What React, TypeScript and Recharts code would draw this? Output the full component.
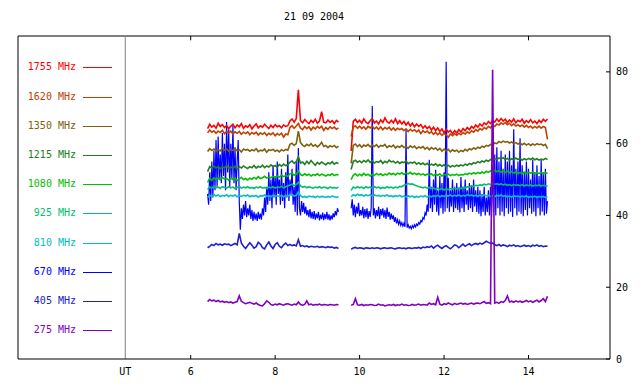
import React from 'react';
import { LineChart, Line, XAxis, YAxis, ReferenceLine } from 'recharts';

const FONT = '"DejaVu Sans Mono", "Liberation Mono", monospace';

const chartTitle = '21 09 2004';
const xTicks = [4.45, 6, 8, 10, 12, 14];
const topTicks = [6, 8, 10, 12, 14];
const yTicks = [0, 20, 40, 60, 80];
const utPos = 4.45;
const gapTime = 9.65;

const seg1Times = [
  6.40, 6.45, 6.50, 6.55, 6.60, 6.65, 6.70, 6.75, 6.80, 6.85,
  6.90, 6.95, 7.00, 7.05, 7.10, 7.15, 7.20, 7.25, 7.30, 7.35,
  7.40, 7.45, 7.50, 7.55, 7.60, 7.65, 7.70, 7.75, 7.80, 7.85,
  7.90, 7.95, 8.00, 8.05, 8.10, 8.15, 8.20, 8.25, 8.30, 8.35,
  8.40, 8.45, 8.50, 8.55, 8.60, 8.65, 8.70, 8.75, 8.80, 8.85,
  8.90, 8.95, 9.00, 9.05, 9.10, 9.15, 9.20, 9.25, 9.30, 9.35,
  9.40, 9.45, 9.50,
];
const seg2Times = [
  9.80, 9.85, 9.90, 9.95, 10.00, 10.05, 10.10, 10.15, 10.20, 10.25,
  10.30, 10.35, 10.40, 10.45, 10.50, 10.55, 10.60, 10.65, 10.70, 10.75,
  10.80, 10.85, 10.90, 10.95, 11.00, 11.05, 11.10, 11.15, 11.20, 11.25,
  11.30, 11.35, 11.40, 11.45, 11.50, 11.55, 11.60, 11.65, 11.70, 11.75,
  11.80, 11.85, 11.90, 11.95, 12.00, 12.05, 12.10, 12.15, 12.20, 12.25,
  12.30, 12.35, 12.40, 12.45, 12.50, 12.55, 12.60, 12.65, 12.70, 12.75,
  12.80, 12.85, 12.90, 12.95, 13.00, 13.05, 13.10, 13.15, 13.20, 13.25,
  13.30, 13.35, 13.40, 13.45, 13.50, 13.55, 13.60, 13.65, 13.70, 13.75,
  13.80, 13.85, 13.90, 13.95, 14.00, 14.05, 14.10, 14.15, 14.20, 14.25,
  14.30, 14.35, 14.40, 14.45,
];

// 670 MHz is sampled twice as densely (every 0.025 h)
const fineTimes1 = [
  6.400, 6.425, 6.450, 6.475, 6.500, 6.525, 6.550, 6.575, 6.600, 6.625,
  6.650, 6.675, 6.700, 6.725, 6.750, 6.775, 6.800, 6.825, 6.850, 6.875,
  6.900, 6.925, 6.950, 6.975, 7.000, 7.025, 7.050, 7.075, 7.100, 7.125,
  7.150, 7.175, 7.200, 7.225, 7.250, 7.275, 7.300, 7.325, 7.350, 7.375,
  7.400, 7.425, 7.450, 7.475, 7.500, 7.525, 7.550, 7.575, 7.600, 7.625,
  7.650, 7.675, 7.700, 7.725, 7.750, 7.775, 7.800, 7.825, 7.850, 7.875,
  7.900, 7.925, 7.950, 7.975, 8.000, 8.025, 8.050, 8.075, 8.100, 8.125,
  8.150, 8.175, 8.200, 8.225, 8.250, 8.275, 8.300, 8.325, 8.350, 8.375,
  8.400, 8.425, 8.450, 8.475, 8.500, 8.525, 8.550, 8.575, 8.600, 8.625,
  8.650, 8.675, 8.700, 8.725, 8.750, 8.775, 8.800, 8.825, 8.850, 8.875,
  8.900, 8.925, 8.950, 8.975, 9.000, 9.025, 9.050, 9.075, 9.100, 9.125,
  9.150, 9.175, 9.200, 9.225, 9.250, 9.275, 9.300, 9.325, 9.350, 9.375,
  9.400, 9.425, 9.450, 9.475, 9.500,
];
const fineTimes2 = [
  9.800, 9.825, 9.850, 9.875, 9.900, 9.925, 9.950, 9.975, 10.000, 10.025,
  10.050, 10.075, 10.100, 10.125, 10.150, 10.175, 10.200, 10.225, 10.250, 10.275,
  10.300, 10.325, 10.350, 10.375, 10.400, 10.425, 10.450, 10.475, 10.500, 10.525,
  10.550, 10.575, 10.600, 10.625, 10.650, 10.675, 10.700, 10.725, 10.750, 10.775,
  10.800, 10.825, 10.850, 10.875, 10.900, 10.925, 10.950, 10.975, 11.000, 11.025,
  11.050, 11.075, 11.100, 11.125, 11.150, 11.175, 11.200, 11.225, 11.250, 11.275,
  11.300, 11.325, 11.350, 11.375, 11.400, 11.425, 11.450, 11.475, 11.500, 11.525,
  11.550, 11.575, 11.600, 11.625, 11.650, 11.675, 11.700, 11.725, 11.750, 11.775,
  11.800, 11.825, 11.850, 11.875, 11.900, 11.925, 11.950, 11.975, 12.000, 12.025,
  12.050, 12.075, 12.100, 12.125, 12.150, 12.175, 12.200, 12.225, 12.250, 12.275,
  12.300, 12.325, 12.350, 12.375, 12.400, 12.425, 12.450, 12.475, 12.500, 12.525,
  12.550, 12.575, 12.600, 12.625, 12.650, 12.675, 12.700, 12.725, 12.750, 12.775,
  12.800, 12.825, 12.850, 12.875, 12.900, 12.925, 12.950, 12.975, 13.000, 13.025,
  13.050, 13.075, 13.100, 13.125, 13.150, 13.175, 13.200, 13.225, 13.250, 13.275,
  13.300, 13.325, 13.350, 13.375, 13.400, 13.425, 13.450, 13.475, 13.500, 13.525,
  13.550, 13.575, 13.600, 13.625, 13.650, 13.675, 13.700, 13.725, 13.750, 13.775,
  13.800, 13.825, 13.850, 13.875, 13.900, 13.925, 13.950, 13.975, 14.000, 14.025,
  14.050, 14.075, 14.100, 14.125, 14.150, 14.175, 14.200, 14.225, 14.250, 14.275,
  14.300, 14.325, 14.350, 14.375, 14.400, 14.425, 14.450,
];

// 1755 MHz
const f1755a = [
  64.2, 65.4, 64.6, 65.1, 64.3, 65.7, 64.8, 65.3, 64.5, 65.0,
  64.2, 64.9, 65.4, 64.4, 65.2, 64.7, 65.6, 64.3, 65.0, 64.6,
  65.3, 64.1, 64.9, 65.5, 64.4, 65.0, 64.6, 65.4, 64.8, 64.2,
  65.1, 64.5, 65.3, 64.7, 65.0, 64.4, 65.2, 64.8, 65.0, 66.3,
  66.9, 66.0, 67.0, 75.0, 66.4, 65.8, 66.7, 66.1, 65.6, 66.5,
  65.9, 66.8, 65.7, 66.3, 68.9, 66.0, 65.8, 66.6, 65.9, 66.4,
  65.6, 66.5, 66.0,
];
const f1755b = [
  58.0, 66.2, 66.8, 65.9, 66.5, 65.7, 66.9, 66.0, 65.6, 66.4,
  67.0, 65.8, 66.3, 65.5, 66.6, 65.9, 67.2, 66.1, 65.7, 66.5,
  65.8, 66.9, 65.6, 66.4, 65.5, 66.2, 65.2, 66.0, 64.9, 65.7,
  64.7, 65.5, 64.8, 65.3, 64.3, 65.0, 64.2, 64.8, 63.8, 64.6,
  63.6, 64.4, 63.4, 64.1, 63.0, 64.0, 63.2, 63.7, 62.8, 63.6,
  63.0, 63.9, 63.2, 64.2, 63.6, 64.5, 63.9, 64.8, 64.3, 65.2,
  64.6, 65.5, 64.9, 65.8, 65.3, 66.2, 65.6, 66.5, 66.0, 66.9,
  66.2, 67.0, 66.3, 66.8, 65.9, 66.6, 66.0, 66.9, 65.8, 66.5,
  66.1, 66.8, 65.7, 66.4, 65.9, 66.7, 65.8, 66.3, 65.6, 66.5,
  65.9, 66.8, 66.2, 66.9,
];

// 1620 MHz
const f1620a = [
  63.0, 63.8, 63.2, 63.6, 62.9, 63.5, 63.1, 63.7, 62.8, 63.4,
  63.0, 63.5, 62.7, 63.3, 62.9, 63.4, 62.6, 63.2, 62.8, 63.3,
  62.5, 63.1, 62.7, 63.2, 62.4, 63.0, 62.6, 63.1, 62.3, 62.9,
  62.5, 63.0, 62.2, 62.8, 62.4, 62.9, 61.8, 62.7, 62.5, 64.5,
  65.0, 64.3, 64.9, 65.6, 64.4, 63.9, 64.8, 64.2, 64.7, 63.8,
  64.6, 64.1, 64.8, 64.3, 64.9, 63.7, 64.5, 64.0, 64.7, 64.2,
  64.6, 64.0, 64.4,
];
const f1620b = [
  62.0, 64.6, 65.0, 64.3, 64.9, 64.2, 64.7, 64.0, 64.8, 64.4,
  64.9, 64.1, 64.6, 64.0, 64.7, 63.9, 64.5, 64.1, 64.6, 63.8,
  64.4, 63.7, 64.3, 63.9, 64.2, 63.6, 64.1, 63.4, 64.0, 63.5,
  63.9, 63.3, 63.8, 62.8, 63.6, 63.1, 63.5, 62.9, 63.3, 62.6,
  63.2, 62.5, 63.0, 62.3, 62.9, 62.4, 61.8, 62.7, 62.2, 62.8,
  62.3, 62.9, 62.5, 63.1, 62.7, 63.3, 62.9, 63.6, 63.2, 63.9,
  63.5, 64.2, 63.8, 64.5, 64.1, 64.8, 64.4, 65.1, 64.8, 65.5,
  65.2, 65.8, 65.4, 65.9, 65.3, 65.7, 65.0, 65.5, 64.9, 65.3,
  64.8, 65.2, 64.6, 65.1, 64.5, 64.9, 64.3, 64.8, 64.4, 64.9,
  64.3, 64.8, 64.5, 61.2,
];

// 1350 MHz
const f1350a = [
  57.8, 58.6, 58.1, 58.5, 57.9, 58.4, 58.0, 58.7, 58.2, 58.5,
  57.9, 58.4, 58.1, 58.6, 58.0, 58.3, 57.7, 58.5, 58.2, 58.4,
  57.9, 58.3, 58.0, 58.6, 57.8, 58.2, 58.0, 58.5, 57.6, 58.3,
  58.1, 58.4, 57.9, 58.2, 57.7, 58.3, 58.0, 58.4, 58.2, 59.8,
  60.1, 59.5, 60.0, 63.5, 60.3, 59.6, 59.2, 59.8, 59.4, 60.0,
  59.3, 59.7, 59.1, 59.6, 60.4, 59.2, 59.5, 58.9, 59.4, 59.1,
  59.5, 58.9, 59.3,
];
const f1350b = [
  54.5, 59.5, 59.9, 59.2, 59.7, 59.0, 59.6, 59.3, 59.8, 59.1,
  59.6, 59.2, 59.7, 59.0, 59.5, 59.3, 59.8, 58.9, 59.4, 59.1,
  59.6, 58.8, 59.3, 59.0, 59.5, 58.9, 59.2, 58.7, 59.4, 58.9,
  59.3, 58.6, 59.1, 58.8, 59.2, 58.5, 59.0, 58.3, 58.9, 58.5,
  58.8, 58.2, 58.7, 57.9, 58.5, 58.0, 58.4, 57.7, 58.3, 57.9,
  58.2, 57.6, 58.1, 57.8, 58.4, 58.0, 58.6, 58.3, 58.8, 58.5,
  59.0, 58.7, 59.3, 59.0, 59.5, 59.3, 59.8, 59.6, 60.2, 60.0,
  60.6, 60.3, 60.7, 60.4, 60.6, 60.2, 60.5, 60.0, 60.3, 59.9,
  60.2, 59.7, 60.1, 59.6, 60.0, 59.5, 59.9, 59.6, 60.0, 59.7,
  59.9, 59.5, 59.8, 58.6,
];

// 1215 MHz
const f1215a = [
  52.2, 53.6, 53.1, 53.8, 53.2, 53.6, 53.0, 53.5, 53.3, 53.9,
  53.1, 53.5, 53.2, 53.7, 52.9, 53.6, 53.2, 53.8, 53.4, 53.1,
  53.6, 53.3, 53.9, 53.2, 53.7, 53.4, 54.0, 53.3, 53.8, 53.5,
  54.1, 53.6, 53.9, 53.4, 54.2, 53.7, 54.3, 53.9, 54.1, 54.8,
  55.2, 54.5, 55.0, 56.3, 54.6, 54.9, 54.2, 55.1, 54.4, 55.3,
  54.6, 54.0, 54.8, 54.3, 54.9, 54.5, 54.1, 54.7, 54.4, 55.0,
  54.3, 54.7, 54.5,
];
const f1215b = [
  52.8, 55.1, 55.4, 54.8, 55.2, 54.7, 55.3, 54.9, 55.5, 54.8,
  55.2, 54.6, 55.0, 54.8, 55.3, 54.5, 55.1, 54.7, 55.4, 54.9,
  55.1, 54.6, 55.0, 54.5, 54.9, 54.7, 55.2, 54.4, 54.8, 54.6,
  54.9, 54.3, 54.7, 54.2, 54.6, 54.1, 54.5, 53.9, 54.3, 54.0,
  54.4, 53.8, 54.2, 53.7, 54.1, 53.6, 54.0, 53.5, 53.9, 53.6,
  54.0, 53.7, 54.1, 53.8, 54.3, 54.0, 54.5, 54.2, 54.7, 54.5,
  55.0, 54.7, 55.2, 54.9, 55.4, 55.1, 55.6, 55.3, 55.8, 55.6,
  56.0, 55.7, 56.1, 55.6, 55.9, 55.4, 55.8, 55.5, 56.0, 55.6,
  55.9, 55.4, 55.8, 55.5, 55.9, 55.6, 56.0, 55.5, 55.8, 55.4,
  55.7, 55.5, 55.9, 55.6,
];

// 1080 MHz
const f1080a = [
  49.2, 50.3, 49.8, 50.5, 50.0, 50.4, 49.9, 50.6, 50.1, 50.3,
  49.8, 50.5, 50.0, 50.4, 49.7, 50.2, 50.6, 50.0, 50.3, 49.9,
  50.4, 50.1, 50.6, 50.2, 50.8, 50.3, 50.5, 50.9, 50.4, 50.7,
  50.5, 50.9, 50.6, 51.0, 50.7, 51.2, 50.8, 51.1, 50.9, 51.6,
  51.8, 51.2, 51.5, 52.4, 51.4, 51.1, 51.6, 51.2, 51.5, 51.0,
  51.4, 51.2, 51.6, 51.1, 51.5, 51.3, 51.0, 51.4, 51.2, 51.6,
  51.1, 51.4, 51.3,
];
const f1080b = [
  50.0, 51.2, 51.6, 51.0, 51.5, 51.1, 51.7, 51.2, 51.5, 51.0,
  51.4, 51.2, 51.7, 51.3, 51.6, 51.1, 51.5, 51.3, 51.8, 51.4,
  51.7, 51.3, 51.8, 51.5, 51.9, 51.4, 51.8, 51.6, 52.0, 51.5,
  51.8, 51.4, 51.7, 51.3, 51.6, 51.2, 51.5, 51.3, 51.6, 51.1,
  51.5, 51.2, 51.6, 51.0, 51.4, 51.2, 51.5, 51.1, 51.4, 51.2,
  51.5, 51.1, 51.4, 51.3, 51.6, 51.4, 51.8, 51.5, 51.9, 51.6,
  52.0, 51.7, 52.1, 51.8, 52.3, 52.0, 52.4, 52.1, 52.6, 52.2,
  52.5, 52.1, 52.4, 52.0, 52.3, 51.9, 52.2, 51.8, 52.1, 51.7,
  52.0, 51.6, 52.1, 51.7, 52.0, 51.8, 52.1, 51.6, 51.9, 51.7,
  52.0, 51.6, 51.9, 51.7,
];

// 925 MHz
const f925a = [
  47.2, 47.9, 47.6, 48.1, 47.7, 47.9, 47.5, 48.0, 47.8, 47.6,
  48.0, 47.7, 47.9, 47.5, 47.8, 48.1, 47.6, 47.9, 47.7, 48.0,
  47.6, 47.8, 47.5, 47.9, 47.7, 48.0, 47.6, 47.8, 47.5, 47.9,
  47.7, 48.0, 47.6, 47.9, 47.8, 48.1, 47.7, 48.0, 48.2, 48.5,
  48.7, 48.3, 48.6, 49.2, 48.2, 47.9, 48.1, 47.7, 48.0, 47.8,
  47.6, 47.9, 47.7, 48.0, 47.6, 47.9, 47.8, 47.5, 47.9, 47.7,
  47.8, 47.6, 47.9,
];
const f925b = [
  47.0, 47.9, 47.6, 48.0, 47.7, 47.9, 47.5, 48.0, 47.7, 47.9,
  47.6, 48.0, 47.7, 47.9, 47.5, 47.8, 47.6, 48.0, 47.7, 47.9,
  47.6, 47.9, 47.7, 48.1, 48.0, 48.4, 48.6, 48.9, 48.7, 48.8,
  48.5, 48.3, 48.0, 47.9, 47.7, 47.9, 47.6, 47.8, 47.5, 47.7,
  47.3, 47.6, 47.2, 47.5, 47.1, 47.4, 47.2, 47.5, 47.3, 47.6,
  47.4, 47.7, 47.5, 47.8, 47.7, 48.0, 47.9, 48.2, 48.1, 48.4,
  48.3, 48.5, 48.4, 48.7, 48.5, 48.8, 48.6, 48.9, 48.7, 48.8,
  48.6, 48.8, 48.5, 48.7, 48.4, 48.6, 48.3, 48.6, 48.4, 48.5,
  48.3, 48.6, 48.2, 48.5, 48.3, 48.5, 48.2, 48.4, 48.3, 48.5,
  48.2, 48.4, 48.3, 48.1,
];

// 810 MHz
const f810a = [
  45.0, 45.6, 45.3, 45.8, 45.4, 45.7, 45.2, 45.6, 45.4, 45.8,
  45.3, 45.6, 45.4, 45.7, 45.2, 45.5, 45.3, 45.6, 45.4, 45.7,
  45.2, 45.5, 45.3, 45.6, 45.1, 45.5, 45.4, 45.7, 45.3, 45.5,
  45.2, 45.6, 45.4, 45.5, 45.3, 45.6, 45.2, 45.5, 45.4, 45.7,
  45.8, 45.4, 45.6, 46.5, 45.5, 45.1, 45.3, 45.0, 45.4, 45.2,
  45.3, 45.0, 45.4, 45.1, 45.3, 45.2, 45.0, 45.3, 45.1, 45.4,
  45.2, 45.0, 45.3,
];
const f810b = [
  45.2, 45.8, 45.5, 45.9, 45.6, 45.8, 45.4, 45.7, 45.5, 45.8,
  45.4, 45.7, 45.5, 45.6, 45.3, 45.6, 45.4, 45.7, 45.3, 45.5,
  45.2, 45.5, 45.3, 45.6, 45.2, 45.4, 45.1, 45.5, 45.2, 45.4,
  45.0, 45.3, 45.1, 45.4, 45.2, 45.5, 45.1, 45.4, 45.2, 45.5,
  45.3, 45.6, 45.2, 45.5, 45.3, 45.6, 45.4, 45.7, 45.3, 45.6,
  45.4, 45.7, 45.3, 45.6, 45.4, 45.8, 45.5, 45.7, 45.4, 45.6,
  45.3, 45.6, 45.4, 45.7, 45.5, 45.6, 45.3, 45.5, 45.2, 45.6,
  45.4, 45.7, 45.3, 45.5, 45.2, 45.4, 45.1, 45.5, 45.3, 45.4,
  45.1, 45.4, 45.2, 45.5, 45.0, 45.3, 45.1, 45.4, 45.0, 45.3,
  45.1, 45.3, 45.0, 45.2,
];

// 670 MHz (fine grid)
const f670a = [
  46, 43, 52, 44, 55, 45, 58, 47, 61, 48,
  62, 50, 57, 49, 63, 51, 60, 47, 66, 52,
  64, 48, 60, 50, 65, 49, 59, 47, 55, 61,
  44, 36, 42, 39, 43, 40, 44, 39.5, 42, 40,
  43, 39, 41.5, 38.5, 41, 38.8, 40.5, 38.5, 41, 39,
  40.5, 38.8, 42, 40, 45, 41, 48, 43, 52, 44,
  50, 42, 54, 45, 51, 43, 55, 46, 50, 43,
  53, 44, 49, 42, 52, 45, 57, 44, 50, 46,
  53, 43, 48, 41, 55, 40, 58.8, 42, 40, 44,
  41, 43.5, 40.5, 42.5, 40, 41.5, 39.5, 41.8, 39.2, 41,
  39, 41.2, 38.8, 40.5, 39.2, 41, 38.6, 40.2, 39, 40.8,
  38.7, 40.4, 39, 41, 38.8, 40.3, 38.6, 40, 38.9, 40.6,
  39.5, 41.2, 40, 42, 41,
];
const f670b = [
  42, 44.5, 40, 43, 39.5, 42.5, 40.5, 43.5, 39.8, 41.5,
  40, 42.4, 39.2, 41.8, 39.5, 42, 39, 41.2, 39.6, 42.2,
  70.5, 40, 42, 39.2, 41.5, 39.8, 42.4, 39, 41.8, 40,
  42, 39.4, 41.5, 39, 42.2, 39.6, 41, 38.8, 40.5, 39,
  40, 38.2, 39.5, 37.8, 38.8, 37.5, 38.5, 37.2, 38, 37,
  37.8, 36.8, 63.8, 36.6, 37.4, 36.5, 37, 36.3, 37.2, 36.6,
  37.4, 36.8, 37.6, 37.2, 38, 37.6, 38.6, 38.2, 39.4, 39,
  40.7, 40, 43, 41, 55.5, 42, 48, 41, 50, 43,
  52.7, 41, 47, 40, 51, 42, 49, 40.5, 52, 41,
  82.8, 42, 50.5, 41, 47, 42.5, 50, 41, 48, 42,
  49, 41.5, 47.5, 40.8, 50.7, 42, 48, 41, 50, 43,
  47, 41.5, 49, 42, 48.5, 41, 50, 42.5, 47, 41,
  48, 40.5, 47, 39.8, 46, 41, 48, 40, 45, 41,
  47, 40, 48, 39.6, 54, 41, 57, 40, 59, 42,
  55, 40, 58, 41, 53, 39.8, 57, 42, 55, 40.5,
  58, 41, 54, 39.6, 64, 42, 53, 40, 55, 41,
  61.5, 40.5, 54, 39.8, 52, 41.5, 55, 40, 53, 42,
  50, 40.5, 55.5, 41, 52, 39.8, 54, 42, 51, 40,
  55.5, 41, 52, 40, 53, 40.5, 44,
];

// 405 MHz
const f405a = [
  31.0, 31.4, 31.9, 31.6, 32.2, 31.8, 32.0, 31.7, 32.1, 31.9,
  32.0, 31.6, 31.9, 32.2, 31.8, 35.0, 32.3, 31.4, 30.8, 31.6,
  32.4, 31.7, 30.9, 31.3, 32.5, 32.0, 31.0, 30.7, 31.8, 32.6,
  31.5, 30.8, 31.9, 32.4, 31.4, 31.0, 31.8, 32.3, 31.6, 31.9,
  31.6, 31.8, 31.5, 33.2, 31.4, 31.6, 31.3, 31.5, 31.2, 31.4,
  31.3, 31.2, 31.4, 31.1, 31.3, 31.2, 31.0, 31.3, 31.1, 31.2,
  30.9, 31.1, 30.8,
];
const f405b = [
  30.6, 30.9, 31.1, 30.8, 31.0, 30.9, 30.7, 31.0, 30.9, 30.8,
  31.0, 30.8, 31.0, 30.9, 30.7, 30.9, 31.0, 30.8, 30.9, 31.0,
  30.8, 30.7, 30.9, 31.0, 30.8, 30.9, 30.7, 31.0, 30.9, 30.8,
  31.0, 30.9, 31.1, 30.8, 31.2, 31.0, 31.3, 31.1, 31.5, 30.9,
  31.4, 31.7, 31.2, 30.8, 31.3, 31.6, 31.1, 30.7, 31.2, 31.8,
  31.6, 31.0, 31.5, 32.0, 31.4, 31.8, 32.1, 31.6, 32.0, 32.2,
  31.9, 32.3, 32.0, 32.4, 32.8, 32.5, 32.2, 32.3, 31.8, 31.6,
  31.9, 31.5, 31.8, 31.6, 31.3, 31.7, 31.5, 31.8, 31.4, 31.6,
  31.3, 31.5, 31.7, 31.4, 31.6, 31.3, 31.7, 31.5, 31.8, 31.4,
  31.6, 31.3, 31.5, 31.4,
];

// 275 MHz
const f275a = [
  16.0, 16.6, 16.2, 16.4, 16.0, 16.3, 15.9, 16.1, 15.8, 16.0,
  15.7, 15.9, 15.6, 15.8, 16.0, 17.6, 16.1, 15.7, 15.4, 15.6,
  15.8, 15.5, 15.3, 15.6, 15.2, 14.9, 14.8, 15.4, 16.2, 15.8,
  15.2, 15.0, 15.3, 15.1, 15.4, 15.2, 15.0, 15.3, 15.4, 15.2,
  15.0, 15.3, 15.1, 15.9, 15.2, 15.0, 15.2, 16.2, 15.1, 15.3,
  15.0, 15.2, 15.1, 15.3, 15.0, 15.2, 15.1, 15.0, 15.2, 15.1,
  15.0, 15.2, 15.1,
];
const f275b = [
  15.0, 15.2, 16.8, 15.1, 15.0, 15.2, 14.9, 15.1, 15.0, 15.2,
  15.1, 14.9, 15.0, 15.3, 15.0, 15.1, 14.8, 15.0, 15.1, 15.0,
  15.2, 14.9, 15.1, 15.0, 15.3, 15.0, 15.1, 14.9, 15.0, 15.2,
  15.0, 15.1, 15.3, 15.0, 15.2, 15.1, 15.0, 15.6, 15.2, 15.4,
  15.1, 17.2, 15.3, 15.0, 15.4, 15.2, 15.6, 15.3, 15.1, 15.5,
  15.2, 15.4, 15.6, 15.3, 15.5, 15.2, 15.4, 15.6, 15.3, 15.5,
  15.6, 15.4, 15.7, 16.0, 15.5, 15.7, 15.4, 80.6, 15.6, 15.8,
  15.5, 16.0, 15.8, 16.3, 17.6, 15.9, 16.1, 15.8, 16.2, 15.9,
  16.1, 15.8, 16.0, 16.3, 15.9, 16.2, 15.8, 16.1, 16.4, 15.9,
  16.3, 16.8, 16.0, 17.5,
];

type Series = { key: string; label: string; color: string; a: number[]; b: number[]; fine?: boolean };

const series: Series[] = [
  { key: 'f1755', label: '1755 MHz', color: '#ff0000', a: f1755a, b: f1755b },
  { key: 'f1620', label: '1620 MHz', color: '#c04000', a: f1620a, b: f1620b },
  { key: 'f1350', label: '1350 MHz', color: '#80600c', a: f1350a, b: f1350b },
  { key: 'f1215', label: '1215 MHz', color: '#208020', a: f1215a, b: f1215b },
  { key: 'f1080', label: '1080 MHz', color: '#00c000', a: f1080a, b: f1080b },
  { key: 'f925', label: '925 MHz', color: '#00c070', a: f925a, b: f925b },
  { key: 'f810', label: '810 MHz', color: '#00c0c0', a: f810a, b: f810b },
  { key: 'f670', label: '670 MHz', color: '#0000ff', a: f670a, b: f670b, fine: true },
  { key: 'f405', label: '405 MHz', color: '#2020c8', a: f405a, b: f405b },
  { key: 'f275', label: '275 MHz', color: '#8000c0', a: f275a, b: f275b },
];

const drawOrder = ['f670', 'f1755', 'f1620', 'f1350', 'f1215', 'f1080', 'f925', 'f810', 'f405', 'f275'];

type Row = Record<string, number | null>;

function buildRows(s: Series): Row[] {
  const t1 = s.fine ? fineTimes1 : seg1Times;
  const t2 = s.fine ? fineTimes2 : seg2Times;
  const out: Row[] = [];
  t1.forEach((t, i) => out.push({ t, v: s.a[i] ?? null }));
  out.push({ t: gapTime, v: null });
  t2.forEach((t, i) => out.push({ t, v: s.b[i] ?? null }));
  return out;
}

const X_DOMAIN: [number, number] = [1.91, 15.93];
const Y_DOMAIN: [number, number] = [0, 90];

const BottomTick = (props: any) => {
  const { x, y, payload } = props;
  const isUT = payload.value === utPos;
  return (
    <g>
      {!isUT && <line x1={x} y1={y} x2={x} y2={y - 4} stroke="#000" />}
      <text x={x} y={y + 16} textAnchor="middle" fontSize={10} fontFamily={FONT} fill="#000">
        {isUT ? 'UT' : String(payload.value)}
      </text>
    </g>
  );
};

const RightTick = (props: any) => {
  const { x, y, payload } = props;
  return (
    <g>
      <line x1={x} y1={y} x2={x - 4} y2={y} stroke="#000" />
      <text x={x + 6} y={y + 3.5} textAnchor="start" fontSize={10} fontFamily={FONT} fill="#000">
        {String(payload.value)}
      </text>
    </g>
  );
};

const legendTop = 67.3;
const legendStep = 29.2;

export default function App() {
  const byKey: Record<string, Series> = {};
  series.forEach((s) => { byKey[s.key] = s; });
  return (
    <div style={{ position: 'absolute', left: 0, top: 0, width: 640, height: 384, background: '#fff' }}>
      <div
        style={{
          position: 'absolute', left: 18, top: 10, width: 592, textAlign: 'center',
          fontFamily: FONT, fontSize: 10, lineHeight: '14px', color: '#000',
        }}
      >
        {chartTitle}
      </div>
      <LineChart
        width={640}
        height={384}
        margin={{ top: 36, right: 0, bottom: 0, left: 18 }}
        style={{ position: 'absolute', left: 0, top: 0 }}
      >
        <XAxis
          dataKey="t"
          type="number"
          domain={X_DOMAIN}
          ticks={xTicks}
          interval={0}
          height={25}
          tickSize={0}
          tickMargin={0}
          tick={<BottomTick />}
          axisLine={{ stroke: '#000' }}
          tickLine={false}
          allowDataOverflow
        />
        <YAxis
          orientation="right"
          type="number"
          domain={Y_DOMAIN}
          ticks={yTicks}
          interval={0}
          width={30}
          tickSize={0}
          tickMargin={0}
          tick={<RightTick />}
          axisLine={{ stroke: '#000' }}
          tickLine={false}
          allowDataOverflow
        />
        <ReferenceLine y={Y_DOMAIN[1]} stroke="#000" strokeWidth={1} />
        <ReferenceLine x={X_DOMAIN[0]} stroke="#000" strokeWidth={1} />
        {topTicks.map((t) => (
          <ReferenceLine
            key={`tt${t}`}
            segment={[{ x: t, y: Y_DOMAIN[1] }, { x: t, y: Y_DOMAIN[1] - 1.2 }]}
            stroke="#000"
            strokeWidth={1}
          />
        ))}
        <ReferenceLine x={utPos} stroke="#808080" strokeWidth={1} />
        {drawOrder.map((k) => {
          const s = byKey[k];
          return (
            <Line
              key={k}
              data={buildRows(s)}
              type="linear"
              dataKey="v"
              name={s.label}
              stroke={s.color}
              strokeWidth={s.fine ? 1.2 : 1.6}
              dot={false}
              activeDot={false}
              isAnimationActive={false}
              connectNulls={false}
            />
          );
        })}
      </LineChart>
      {series.map((s, i) => {
        const cy = legendTop + i * legendStep;
        return (
          <React.Fragment key={s.key}>
            <div
              style={{
                position: 'absolute', left: 0, width: 76, top: cy - 7, height: 14,
                textAlign: 'right', fontFamily: FONT, fontSize: 10, lineHeight: '14px',
                color: s.color, whiteSpace: 'nowrap',
              }}
            >
              {s.label}
            </div>
            <div
              style={{
                position: 'absolute', left: 83, width: 29, top: Math.round(cy), height: 1,
                background: s.color,
              }}
            />
          </React.Fragment>
        );
      })}
    </div>
  );
}
